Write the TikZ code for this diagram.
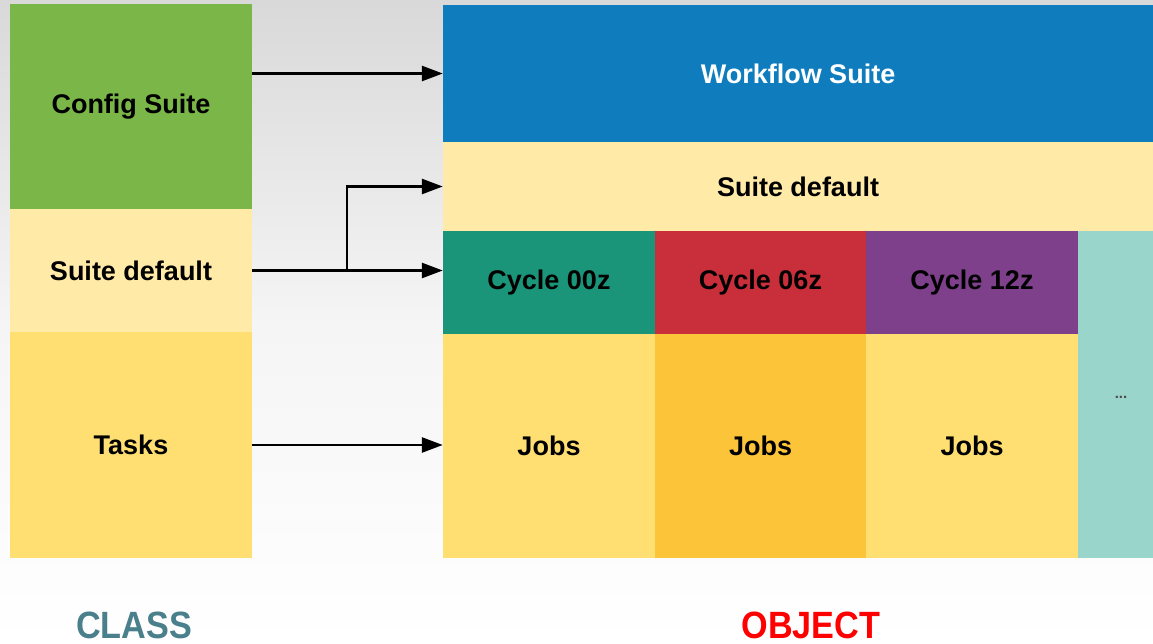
\documentclass[tikz,border=0pt]{standalone}
\usepackage{fontspec}
\setmainfont{Liberation Sans}
\usetikzlibrary{arrows.meta}
\definecolor{cfggreen}{HTML}{7AB648}
\definecolor{paleyellow}{HTML}{FFEAA8}
\definecolor{taskyellow}{HTML}{FFDF71}
\definecolor{deepyellow}{HTML}{FCC438}
\definecolor{suiteblue}{HTML}{0F7DBD}
\definecolor{cycteal}{HTML}{1A957A}
\definecolor{cycred}{HTML}{C92F3A}
\definecolor{cycpurple}{HTML}{7E3F8B}
\definecolor{mint}{HTML}{9AD5CB}
\definecolor{classcol}{HTML}{4A7F8C}
\definecolor{objcol}{HTML}{FF0000}
\tikzset{
  blk/.style={draw=none, inner sep=0pt, font=\bfseries\fontsize{27}{30}\selectfont, text=black},
  conn/.style={line width=2.6pt, -{Triangle[length=21pt,width=15pt]}},
  caption/.style={anchor=base, inner sep=0pt, font=\bfseries\fontsize{38}{38}\selectfont, xscale=0.9}
}
\begin{document}
\begin{tikzpicture}[x=1pt,y=-1pt]
  % backdrop
  \shade[top color=black!15, bottom color=white, middle color=black!4] (0,0) rectangle (1153,644);
  \useasboundingbox (0,0) rectangle (1153,644);

  % class column
  \node[blk, fill=cfggreen, minimum width=242pt, minimum height=205pt] (cfg) at (131,106.5) {Config Suite};
  \node[blk, fill=paleyellow, minimum width=242pt, minimum height=123pt] (sdl) at (131,270.5) {Suite default};
  \node[blk, fill=taskyellow, minimum width=242pt, minimum height=226pt] (tasks) at (131,445) {Tasks};

  % object side
  \node[blk, fill=suiteblue, text=white, minimum width=710pt, minimum height=137pt] (ws) at (798,73.5) {Workflow Suite};
  \node[blk, fill=paleyellow, minimum width=710pt, minimum height=89pt] (sdr) at (798,186.5) {Suite default};
  \node[blk, fill=cycteal, minimum width=212pt, minimum height=103pt] (c00) at (549,282.5) {Cycle 00z};
  \node[blk, fill=cycred, minimum width=211pt, minimum height=103pt] (c06) at (760.5,282.5) {Cycle 06z};
  \node[blk, fill=cycpurple, minimum width=212pt, minimum height=103pt] (c12) at (972,282.5) {Cycle 12z};
  \node[blk, fill=taskyellow, minimum width=212pt, minimum height=224pt] (j00) at (549,446) {Jobs};
  \node[blk, fill=deepyellow, minimum width=211pt, minimum height=224pt] (j06) at (760.5,446) {Jobs};
  \node[blk, fill=taskyellow, minimum width=212pt, minimum height=224pt] (j12) at (972,446) {Jobs};
  \node[blk, fill=mint, minimum width=75pt, minimum height=327pt] (more) at (1115.5,394.5) {};
  \node[font=\bfseries\fontsize{15}{16}\selectfont, text=black!70] (dots) at (1121,397) {...};

  % connectors
  \draw[conn] (cfg.east |- ws.west) -- (ws.west);
  \coordinate (split) at (347,270.5);
  \draw[conn] (sdl.east) -- (sdl.east -| c00.west);
  \draw[conn] (split) |- (sdr.west);
  \draw[conn] (tasks.east) -- (tasks.east -| j00.west);

  % captions
  \node[caption, text=classcol] (cls) at (134,638) {CLASS};
  \node[caption, text=objcol] (obj) at (811,638) {OBJECT};
\end{tikzpicture}
\end{document}
